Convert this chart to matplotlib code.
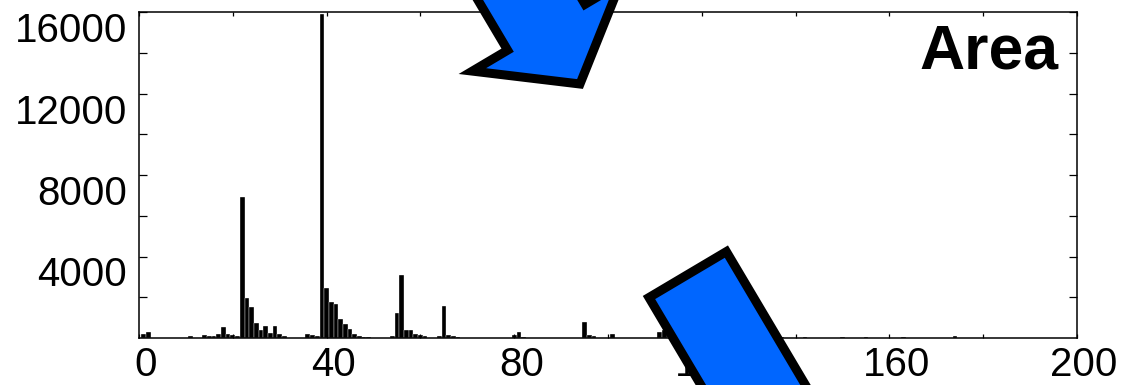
import numpy as np
import matplotlib
matplotlib.use("Agg")
import matplotlib.pyplot as plt
from matplotlib.patches import Polygon
from matplotlib.transforms import Affine2D, ScaledTranslation

# histogram bins (value -> count), only the non-empty ones
bin_centers = [1, 2, 11, 14, 15, 16, 17, 18, 19, 20, 21,
               22, 23, 24, 25, 26, 27, 28, 29, 30, 31,
               36, 37, 38, 39, 40, 41, 42, 43, 44, 45, 46, 47, 48, 49,
               54, 55, 56, 57, 58, 59, 60, 61,
               64, 65, 66, 67, 68,
               80, 81, 82, 95, 96, 97, 101, 111, 112,
               137, 142, 150, 155, 163, 174]
bin_counts = [215, 295, 80, 170, 80, 100, 215, 560, 215, 170, 100,
              6900, 1980, 1520, 740, 410, 575, 245, 575, 180, 100,
              180, 130, 100, 15900, 2470, 1770, 1650, 950, 670, 460, 215, 100, 60, 40,
              80, 1250, 3070, 410, 380, 215, 150, 80,
              90, 1560, 170, 90, 50,
              150, 300, 60, 785, 130, 80, 200, 300, 400,
              30, 30, 30, 30, 30, 80]

x_major = [0, 40, 80, 120, 160, 200]
x_minor = [20, 60, 100, 140, 180]
y_major = [4000, 8000, 12000, 16000]
y_minor = [2000, 6000, 10000, 14000]
panel_label = "Area"

W, H = 1124, 385
ARROW_BLUE = "#0066FF"

plt.rcParams["font.family"] = ["Liberation Sans", "DejaVu Sans"]

fig = plt.figure(figsize=(W / 100, H / 100), dpi=100)
ax = fig.add_axes([139 / W, (H - 338) / H, 938 / W, 326 / H])

ax.bar(bin_centers, bin_counts, width=1.0, color="black", edgecolor="white", linewidth=0.25)

ax.set_xlim(0, 200)
ax.set_ylim(0, 16000)
ax.set_xticks(x_major)
ax.set_xticks(x_minor, minor=True)
ax.set_yticks(y_major)
ax.set_yticks(y_minor, minor=True)
ax.set_xticklabels([str(v) for v in x_major])
ax.set_yticklabels([str(v) for v in y_major])

for s in ax.spines.values():
    s.set_linewidth(1.1)
ax.tick_params(axis="both", which="both", direction="in", top=True, right=True,
               labelsize=29, width=0.9)
ax.tick_params(axis="x", which="both", length=3, pad=6)
ax.tick_params(axis="y", which="both", length=6, pad=8.5)

# labels sit a little off their ticks in the original export
for lab in ax.get_yticklabels():
    lab.set_transform(lab.get_transform() + ScaledTranslation(0, -0.15, fig.dpi_scale_trans))
for lab in ax.get_xticklabels():
    lab.set_transform(lab.get_transform() + ScaledTranslation(0.07, 0, fig.dpi_scale_trans))

ax.text(0.98, 0.828, panel_label, transform=ax.transAxes, ha="right", va="baseline",
        fontsize=45, fontweight="bold")


def block_arrow(tip, direction, length, head_len, head_half, shaft_half):
    """Vertices of a block arrow in image pixels (y down)."""
    u = np.asarray(direction, float)
    u /= np.linalg.norm(u)
    p = np.array([u[1], -u[0]])
    t = np.asarray(tip, float)
    base = t - head_len * u
    tail = t - length * u
    return np.array([
        t,
        base - head_half * p,
        base - shaft_half * p,
        tail - shaft_half * p,
        tail + shaft_half * p,
        base + shaft_half * p,
        base + head_half * p,
    ])


px = Affine2D().scale(1 / W, -1 / H).translate(0, 1) + fig.transFigure
arrow_dir = (0.51, 0.86)
# upper arrow: tip visible, tail off the top
# lower arrow: only the tail end shows, tip below the figure
arrows = [
    block_arrow((580, 84), arrow_dir, 260, 66, 86, 45),
    block_arrow((687.7 + 0.51 * 320, 274.6 + 0.86 * 320), arrow_dir, 320, 66, 86, 45),
]
for verts in arrows:
    poly = Polygon(verts, closed=True, facecolor=ARROW_BLUE, edgecolor="black",
                   linewidth=6.5, joinstyle="miter", transform=px, zorder=5)
    fig.add_artist(poly)

fig.savefig("out.png", dpi=100)
